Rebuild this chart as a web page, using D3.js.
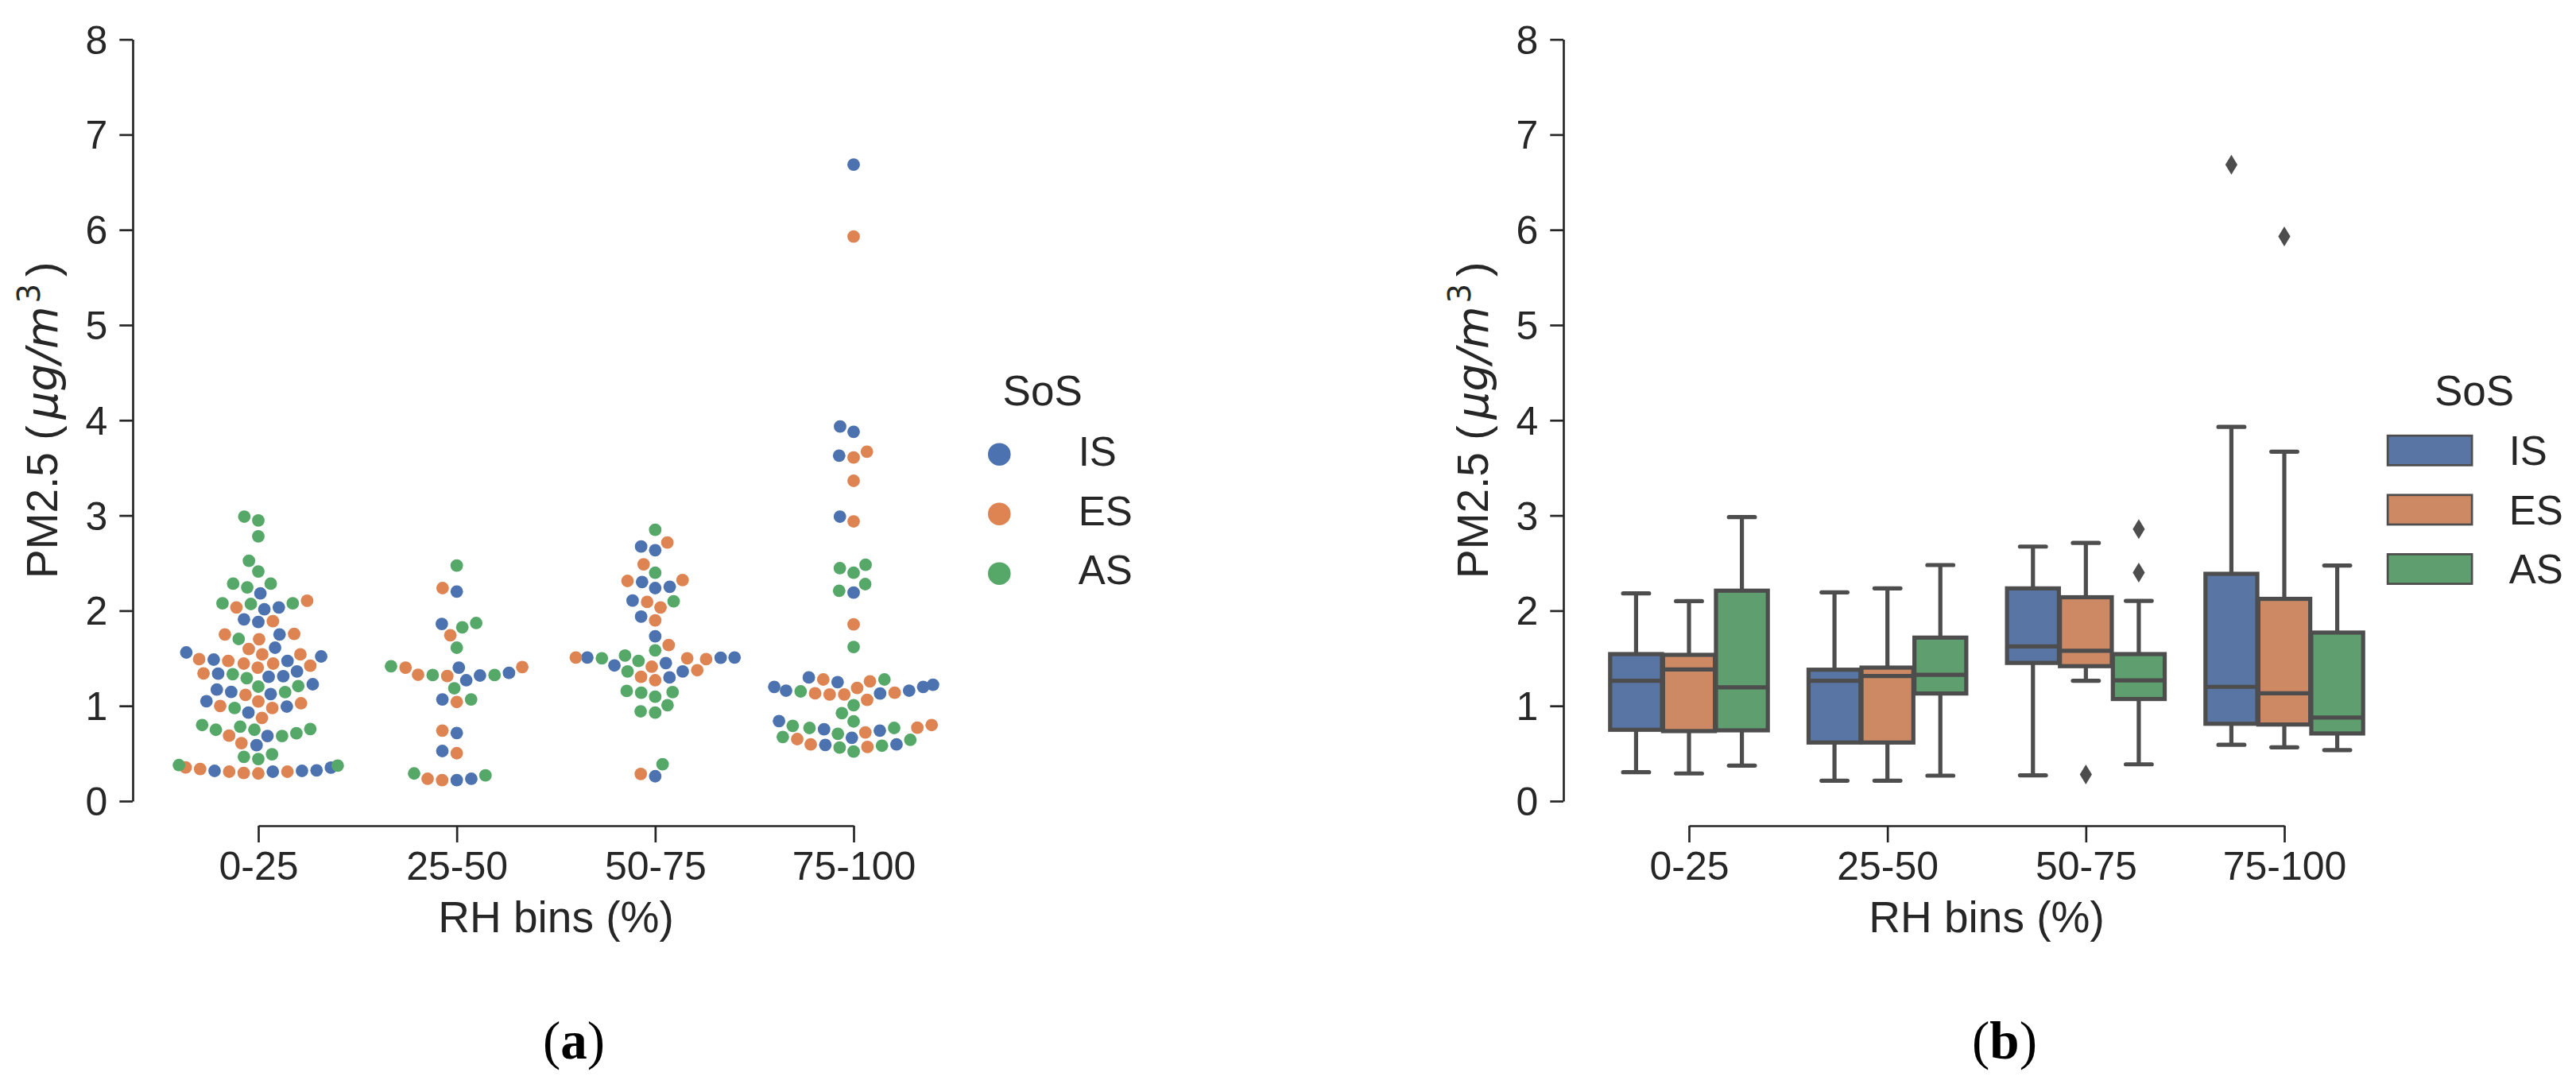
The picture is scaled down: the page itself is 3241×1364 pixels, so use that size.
<!DOCTYPE html>
<html>
<head>
<meta charset="utf-8">
<script src="https://cdnjs.cloudflare.com/ajax/libs/d3/7.8.5/d3.min.js"></script>
<style>
  body { margin: 0; background: #fff; }
  svg { display: block; font-family: "Liberation Sans", Arial, sans-serif; }
</style>
</head>
<body>
<svg id="chart" width="3241" height="1364"></svg>
<script>
const categories = ["0-25", "25-50", "50-75", "75-100"];
const series = ["IS", "ES", "AS"];
const seriesColors = ["#4c72b0", "#dd8452", "#55a868"];
const boxColors = ["#5875a4", "#cc8963", "#5f9e6e"];
const yTicks = [0, 1, 2, 3, 4, 5, 6, 7, 8];

// PM2.5 readings per RH bin, one array per source
const isValues = [
  [2.181, 2.034, 2.014, 1.909, 1.881, 1.75, 1.611, 1.561, 1.519, 1.486, 1.472, 1.361, 1.338, 1.311, 1.305, 1.227, 1.171, 1.146, 1.124, 1.049, 0.993, 0.929, 0.684, 0.587, 0.351, 0.323, 0.317, 0.317, 0.309],
  [2.201, 1.861, 1.402, 1.347, 1.319, 1.269, 1.068, 0.715, 0.526, 0.234, 0.22],
  [2.674, 2.635, 2.301, 2.251, 2.237, 2.106, 1.937, 1.731, 1.508, 1.508, 1.505, 1.45, 1.425, 1.361, 1.299, 0.261],
  [6.685, 3.934, 3.879, 3.628, 2.988, 2.19, 1.299, 1.249, 1.222, 1.199, 1.199, 1.16, 1.16, 1.13, 0.84, 0.754, 0.74, 0.665, 0.595, 0.59],
];
const esValues = [
  [2.104, 2.034, 1.889, 1.756, 1.75, 1.7, 1.597, 1.541, 1.541, 1.491, 1.472, 1.444, 1.444, 1.422, 1.402, 1.341, 1.116, 1.046, 1.027, 0.999, 0.977, 0.874, 0.687, 0.609, 0.353, 0.337, 0.309, 0.309, 0.295, 0.29],
  [2.237, 1.742, 1.408, 1.402, 1.327, 1.313, 1.041, 0.74, 0.503, 0.234, 0.22],
  [2.716, 2.487, 2.321, 2.312, 2.092, 2.034, 1.898, 1.639, 1.508, 1.5, 1.491, 1.411, 1.375, 1.305, 1.269, 0.285],
  [5.93, 3.67, 3.609, 3.364, 2.938, 1.856, 1.277, 1.258, 1.188, 1.138, 1.132, 1.119, 1.119, 1.063, 0.799, 0.771, 0.721, 0.651, 0.595, 0.568],
];
const asValues = [
  [2.988, 2.947, 2.78, 2.524, 2.412, 2.284, 2.284, 2.245, 2.078, 2.078, 2.07, 1.703, 1.333, 1.291, 1.208, 1.202, 1.144, 0.977, 0.799, 0.782, 0.757, 0.749, 0.749, 0.712, 0.684, 0.492, 0.465, 0.442, 0.378, 0.373],
  [2.474, 1.87, 1.825, 1.611, 1.416, 1.324, 1.324, 1.185, 1.068, 0.29, 0.27],
  [2.849, 2.398, 2.098, 1.583, 1.528, 1.5, 1.472, 1.361, 1.157, 1.144, 1.138, 1.096, 1.007, 0.943, 0.929, 0.387],
  [2.482, 2.446, 2.398, 2.279, 2.209, 1.619, 1.277, 1.152, 1.007, 0.924, 0.837, 0.79, 0.768, 0.768, 0.707, 0.673, 0.643, 0.582, 0.562, 0.52],
];

// box plot statistics [series][bin]
const boxLow = [[0.303, 0.214, 0.271, 0.591], [0.29, 0.214, 1.264, 0.565], [0.373, 0.267, 0.386, 0.536]];
const boxQ1 = [[0.749, 0.615, 1.451, 0.812], [0.735, 0.615, 1.417, 0.804], [0.743, 1.13, 1.072, 0.71]];
const boxMedian = [[1.263, 1.263, 1.625, 1.2], [1.383, 1.313, 1.578, 1.132], [1.194, 1.327, 1.268, 0.877]];
const boxQ3 = [[1.544, 1.38, 2.234, 2.387], [1.536, 1.402, 2.141, 2.124], [2.21, 1.717, 1.544, 1.77]];
const boxHigh = [[2.181, 2.193, 2.673, 3.93], [2.1, 2.234, 2.711, 3.67], [2.983, 2.479, 2.103, 2.474]];
const outlierBins = ["50-75", "50-75", "50-75", "75-100", "75-100"];
const outlierSeries = ["ES", "AS", "AS", "IS", "ES"];
const outlierValues = [0.28, 2.4, 2.856, 6.685, 5.93];

const textColor = "#262626";
const boxLine = "#4d4d4d";

let svg = d3.select("#chart");

let y = d3.scaleLinear().domain([0, 8]).range([1008, 49.6]);
let x = d3.scalePoint().domain(categories).range([325, 1074]);
let hueBand = d3
  .scaleBand()
  .domain(series)
  .range([-0.4 * x.step(), 0.4 * x.step()]);

function drawAxes(g) {
  let yAxis = g
    .append("g")
    .attr("transform", "translate(167,0)")
    .call(d3.axisLeft(y).tickValues(yTicks).tickSize(16.7).tickPadding(15).tickSizeOuter(0));
  let xAxis = g
    .append("g")
    .attr("transform", "translate(0,1039)")
    .call(d3.axisBottom(x).tickSize(21).tickPadding(11).tickSizeOuter(0));

  [yAxis, xAxis].forEach((a) => {
    a.attr("font-family", null).attr("font-size", null);
    a.select(".domain").attr("stroke", textColor).attr("stroke-width", 2.7);
    a.selectAll(".tick line").attr("stroke", textColor).attr("stroke-width", 2.7);
    a.selectAll(".tick text").attr("fill", textColor).style("font-size", "50px");
  });
  yAxis.selectAll(".tick text").attr("dy", "0.35em");

  g.append("text")
    .attr("x", 699.5)
    .attr("y", 1173)
    .attr("text-anchor", "middle")
    .attr("fill", textColor)
    .style("font-size", "55px")
    .text("RH bins (%)");

  // y label: plain text plus a mathtext-like part in DejaVu
  let yLabel = g
    .append("text")
    .attr("transform", "translate(71.7,728) rotate(-90)")
    .attr("fill", textColor)
    .style("font-size", "55px");
  yLabel.append("tspan").text("PM2.5 (");
  yLabel.append("tspan")
    .attr("dx", 8)
    .style("font-family", '"DejaVu Sans", sans-serif')
    .style("font-style", "italic")
    .text("\u03bcg/m");
  yLabel.append("tspan")
    .attr("dx", 4)
    .attr("dy", -22)
    .style("font-family", '"DejaVu Sans", sans-serif')
    .style("font-size", "38.5px")
    .text("3");
  yLabel.append("tspan").attr("dx", 9).attr("dy", 22).text(")");
}

function panelLabel(g, cx, letter) {
  let t = g
    .append("text")
    .attr("x", cx)
    .attr("y", 1332)
    .attr("text-anchor", "middle")
    .attr("fill", "#000")
    .style("font-family", '"Liberation Serif", "Times New Roman", serif')
    .style("font-size", "67px");
  t.append("tspan").text("(");
  t.append("tspan").style("font-weight", "bold").text(letter);
  t.append("tspan").text(")");
}

// seaborn-style beeswarm in pixel space
function swarm(points, center, d, half) {
  let sorted = points.slice().sort((a, b) => a.v - b.v || a.order - b.order);
  let placed = [];
  sorted.forEach((p, i) => {
    if (i === 0) {
      p.sx = center;
      placed.push(p);
      return;
    }
    let nb = [];
    for (let k = placed.length - 1; k >= 0; k--) {
      if (placed[k].py - p.py < d) nb.unshift(placed[k]);
      else break;
    }
    let cands = [center];
    let leftFirst = true;
    nb.forEach((q) => {
      let dy = q.py - p.py;
      let dx = Math.sqrt(Math.max(d * d - dy * dy, 0)) * 1.05;
      if (leftFirst) cands.push(q.sx - dx, q.sx + dx);
      else cands.push(q.sx + dx, q.sx - dx);
      leftFirst = !leftFirst;
    });
    let order = cands
      .map((c, j) => [Math.abs(c - center), j, c])
      .sort((a, b) => a[0] - b[0] || a[1] - b[1]);
    let chosen = center;
    for (const [, , cx] of order) {
      if (nb.every((q) => (q.sx - cx) ** 2 + (q.py - p.py) ** 2 >= d * d - 1e-6)) {
        chosen = cx;
        break;
      }
    }
    p.sx = chosen;
    placed.push(p);
  });
  points.forEach((p) => {
    p.sx = Math.max(center - half, Math.min(center + half, p.sx));
  });
}

// panel (a): swarm plot
let ga = svg.append("g");
drawAxes(ga);

const valueSets = [isValues, esValues, asValues];
let swarmPoints = [];
categories.forEach((cat, ci) => {
  let pts = [];
  let order = 0;
  valueSets.forEach((set, si) => {
    set[ci].forEach((v) => {
      pts.push({ cat: cat, s: si, v: v, py: y(v), order: order++ });
    });
  });
  swarm(pts, x(cat), 17.5, 0.4 * x.step());
  swarmPoints = swarmPoints.concat(pts);
});

ga.append("g")
  .selectAll("circle")
  .data(swarmPoints)
  .enter()
  .append("circle")
  .attr("cx", (d) => d.sx)
  .attr("cy", (d) => d.py)
  .attr("r", 7.9)
  .attr("fill", (d) => seriesColors[d.s]);

let legA = ga.append("g");
legA.append("text")
  .attr("x", 1311.7)
  .attr("y", 510)
  .attr("text-anchor", "middle")
  .attr("fill", textColor)
  .style("font-size", "53px")
  .text("SoS");
series.forEach((s, i) => {
  legA.append("circle")
    .attr("cx", 1257.3)
    .attr("cy", 571.7 + 75 * i)
    .attr("r", 14.3)
    .attr("fill", seriesColors[i]);
  legA.append("text")
    .attr("x", 1356.7)
    .attr("y", 586 + 74.5 * i)
    .attr("fill", textColor)
    .style("font-size", "51px")
    .text(s);
});
panelLabel(ga, 722, "a");

// panel (b): box plot
let gb = svg.append("g").attr("transform", "translate(1800,0)");
drawAxes(gb);

let boxes = [];
series.forEach((s, si) => {
  categories.forEach((cat, ci) => {
    boxes.push({
      s: si,
      cx: x(cat) + hueBand(s) + hueBand.bandwidth() / 2,
      w: hueBand.bandwidth() * 0.98,
      low: boxLow[si][ci],
      q1: boxQ1[si][ci],
      med: boxMedian[si][ci],
      q3: boxQ3[si][ci],
      high: boxHigh[si][ci],
    });
  });
});

let boxG = gb
  .append("g")
  .selectAll("g")
  .data(boxes)
  .enter()
  .append("g")
  .attr("stroke", boxLine)
  .attr("stroke-width", 5.2);

boxG.append("line")
  .attr("x1", (d) => d.cx)
  .attr("x2", (d) => d.cx)
  .attr("y1", (d) => y(d.high))
  .attr("y2", (d) => y(d.q3));
boxG.append("line")
  .attr("x1", (d) => d.cx)
  .attr("x2", (d) => d.cx)
  .attr("y1", (d) => y(d.q1))
  .attr("y2", (d) => y(d.low));
["high", "low"].forEach((k) => {
  boxG.append("line")
    .attr("stroke-linecap", "round")
    .attr("x1", (d) => d.cx - d.w / 4)
    .attr("x2", (d) => d.cx + d.w / 4)
    .attr("y1", (d) => y(d[k]))
    .attr("y2", (d) => y(d[k]));
});
boxG.append("rect")
  .attr("x", (d) => d.cx - d.w / 2)
  .attr("width", (d) => d.w)
  .attr("y", (d) => y(d.q3))
  .attr("height", (d) => y(d.q1) - y(d.q3))
  .attr("fill", (d) => boxColors[d.s]);
boxG.append("line")
  .attr("x1", (d) => d.cx - d.w / 2)
  .attr("x2", (d) => d.cx + d.w / 2)
  .attr("y1", (d) => y(d.med))
  .attr("y2", (d) => y(d.med));

gb.append("g")
  .selectAll("path")
  .data(outlierValues)
  .enter()
  .append("path")
  .attr("transform", (v, i) => {
    let cx = x(outlierBins[i]) + hueBand(outlierSeries[i]) + hueBand.bandwidth() / 2;
    return `translate(${cx},${y(v)})`;
  })
  .attr("d", "M0,-12.5L7.6,0L0,12.5L-7.6,0Z")
  .attr("fill", boxLine);

let legB = gb.append("g");
legB.append("text")
  .attr("x", 1313)
  .attr("y", 510)
  .attr("text-anchor", "middle")
  .attr("fill", textColor)
  .style("font-size", "53px")
  .text("SoS");
series.forEach((s, i) => {
  legB.append("rect")
    .attr("x", 1204.1)
    .attr("y", 566.8 + 74.6 * i - 18.6)
    .attr("width", 106)
    .attr("height", 37.2)
    .attr("fill", boxColors[i])
    .attr("stroke", boxLine)
    .attr("stroke-width", 2.7);
  legB.append("text")
    .attr("x", 1356.7)
    .attr("y", 585 + 74.5 * i)
    .attr("fill", textColor)
    .style("font-size", "51px")
    .text(s);
});
panelLabel(gb, 722, "b");
</script>
</body>
</html>
